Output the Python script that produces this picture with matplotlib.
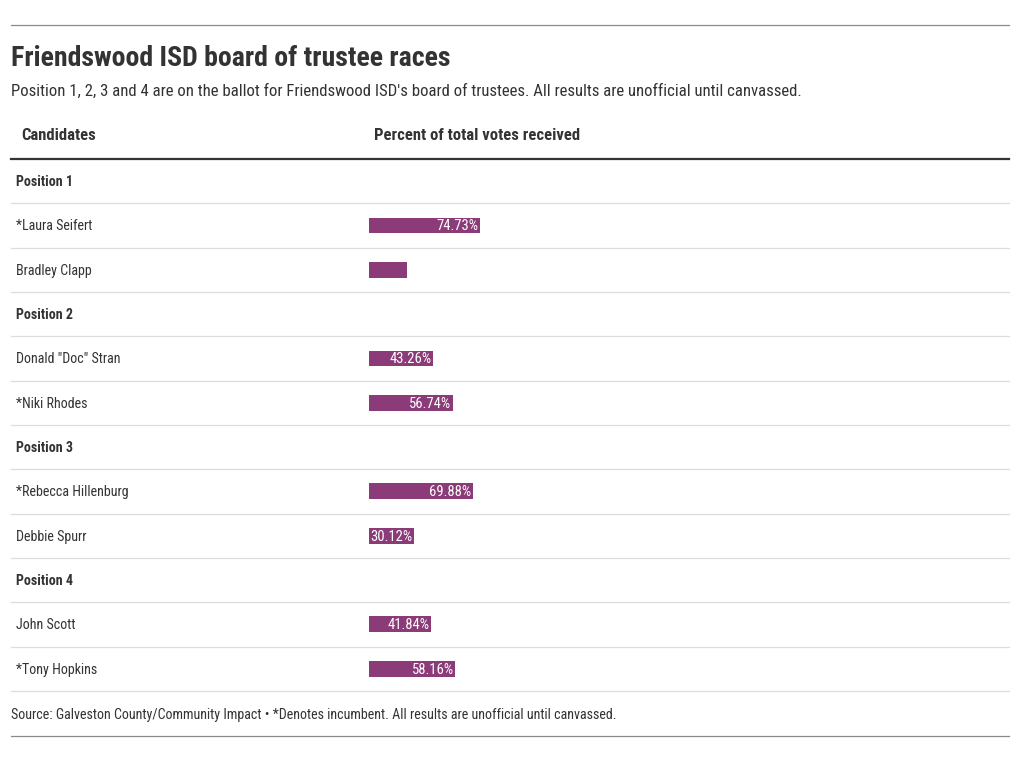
import matplotlib
matplotlib.use("Agg")
from matplotlib import pyplot as plt
from matplotlib import font_manager as fm

# data
rows = ["Position 1", "*Laura Seifert", "Bradley Clapp",
        "Position 2", "Donald \"Doc\" Stran", "*Niki Rhodes",
        "Position 3", "*Rebecca Hillenburg", "Debbie Spurr",
        "Position 4", "John Scott", "*Tony Hopkins"]
is_header = [True, False, False, True, False, False,
             True, False, False, True, False, False]
pct = [None, 74.73, 25.27, None, 43.26, 56.74,
       None, 69.88, 30.12, None, 41.84, 58.16]
show_label = [False, True, False, False, True, True,
              False, True, True, False, True, True]

title = "Friendswood ISD board of trustee races"
subtitle = ("Position 1, 2, 3 and 4 are on the ballot for Friendswood ISD's board of "
            "trustees. All results are unofficial until canvassed.")
col_headers = ["Candidates", "Percent of total votes received"]
source = ("Source: Galveston County/Community Impact \u2022 *Denotes incumbent. "
          "All results are unofficial until canvassed.")

# pick a narrow font if we have one
names = {f.name for f in fm.fontManager.ttflist}
fam = "DejaVu Sans"
for cand in ["Roboto Condensed", "Liberation Sans Narrow", "Roboto"]:
    if cand in names:
        fam = cand
        break
plt.rcParams['font.family'] = [fam, 'DejaVu Sans']

W, H = 1020, 762
TXT = "#333333"
BAR = "#8b3b77"

fig = plt.figure(figsize=(W / 100, H / 100), dpi=100)
ax = fig.add_axes([0, 0, 1, 1])
ax.set_xlim(0, W)
ax.set_ylim(H, 0)
ax.axis("off")

# frame lines
ax.plot([11, 1009], [25, 25], color="#8a8a8a", lw=0.9)
ax.plot([11, 1009], [736, 736], color="#8a8a8a", lw=0.9)

ax.text(11, 58.5, title, fontsize=20.1, fontweight="bold", color=TXT, va="center")
ax.text(11, 91, subtitle, fontsize=12.05, color=TXT, va="center")

ax.text(21, 136, col_headers[0], fontsize=12, fontweight="bold", color=TXT, va="center")
ax.text(374, 136, col_headers[1], fontsize=12, fontweight="bold", color=TXT, va="center")
ax.plot([11, 1009], [159, 159], color=TXT, lw=1.6)

top, step = 159, 44.33
for i, name in enumerate(rows):
    yc = top + step * (i + 0.5) + 1
    ax.text(16, yc, name, fontsize=10.1, color=TXT, va="center",
            fontweight="bold" if is_header[i] else "normal")
    ax.plot([11, 1009], [top + step * (i + 1)] * 2, color="#dddddd", lw=0.9)

ax.text(11, 715, source, fontsize=10.1, color=TXT, va="center")

# bars
n = len(rows)
bx = fig.add_axes([369 / W, 1 - (top + step * n) / H, 148.5 / W, step * n / H])
bx.set_xlim(0, 100)
bx.set_ylim(n - 0.5, -0.5)
bx.axis("off")
for i, v in enumerate(pct):
    if v is None:
        continue
    bx.barh(i, v, height=0.36, color=BAR)
    if show_label[i]:
        bx.text(v - 1.2, i + 0.02, f"{v:.2f}%", color="white", fontsize=10.5,
                ha="right", va="center")

fig.savefig("out.png", dpi=100)
